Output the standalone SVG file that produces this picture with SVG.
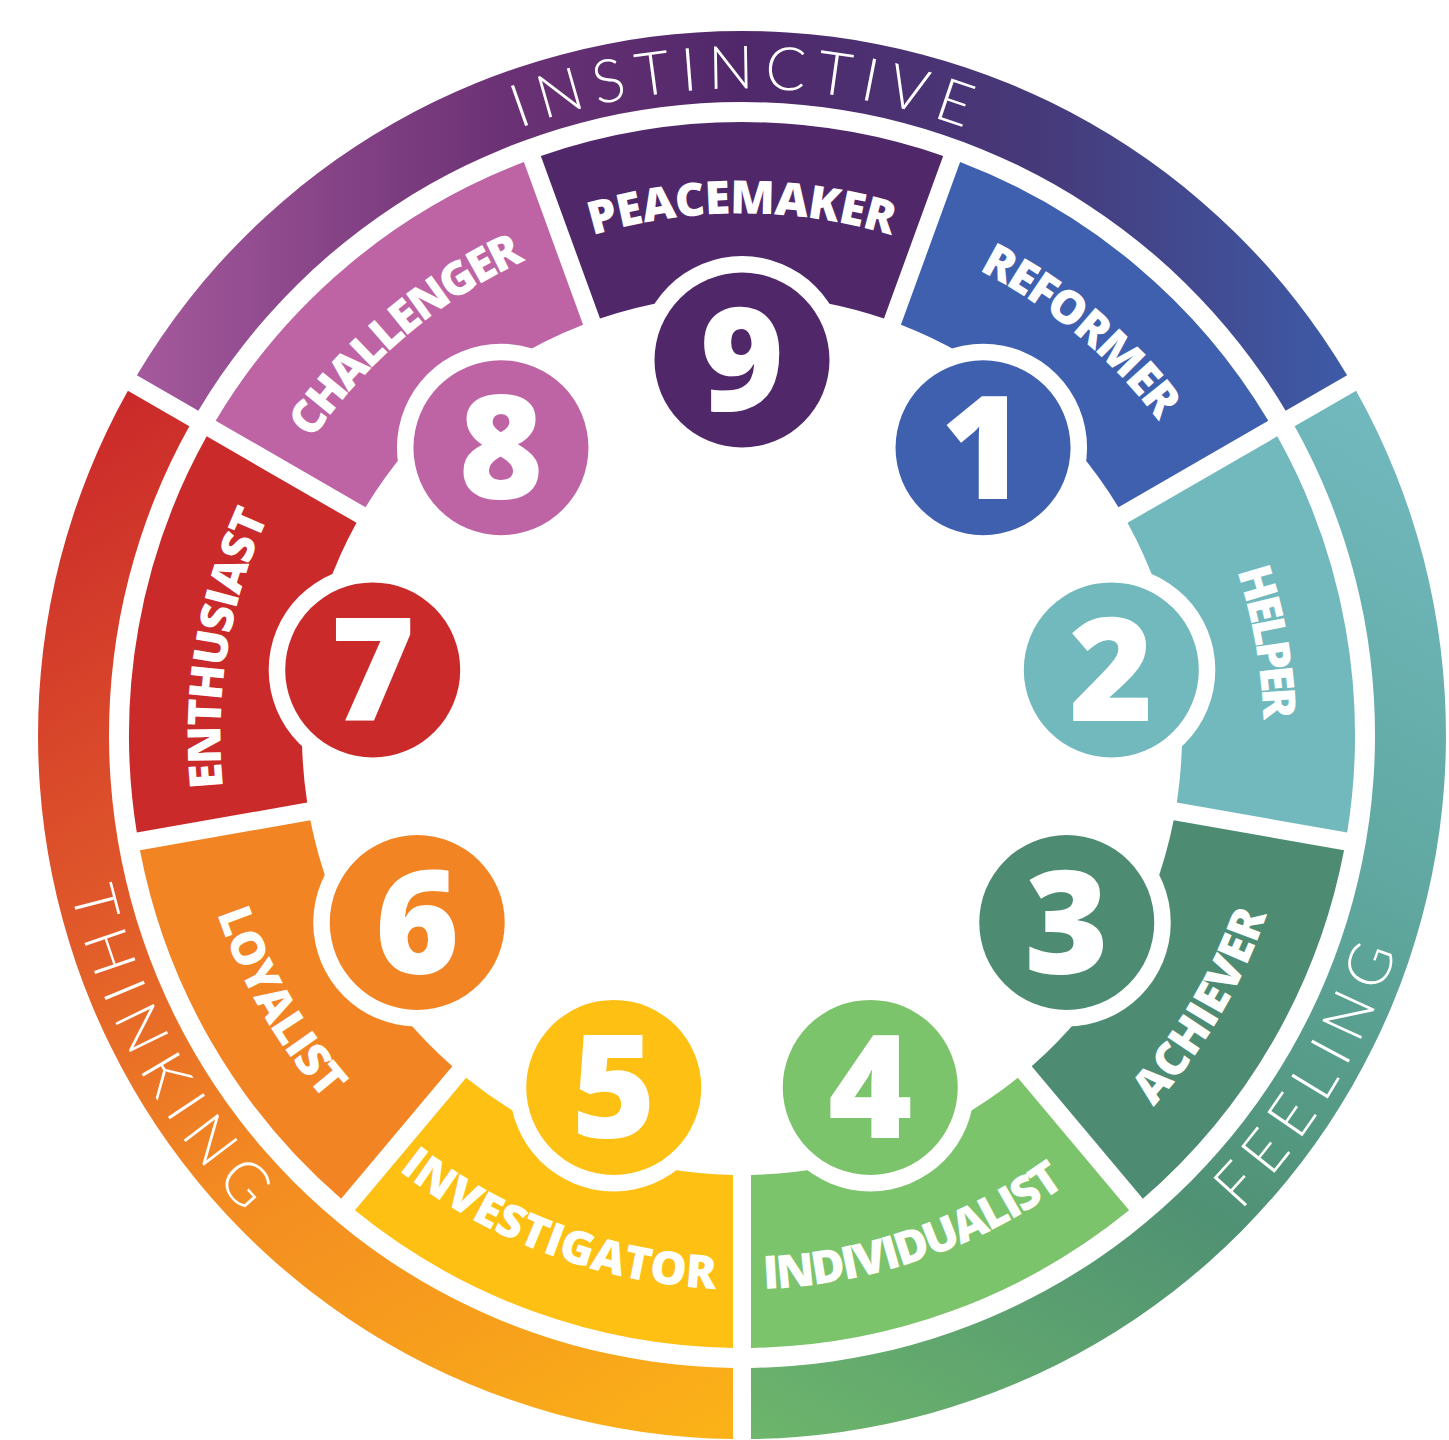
<svg xmlns="http://www.w3.org/2000/svg" width="1449" height="1440" viewBox="0 0 1449 1440">
<defs>
<style>
.seg-label{font-family:"Open Sans","Liberation Sans",sans-serif;font-weight:800;font-size:46px;fill:#fff}
.num{font-family:"Open Sans","Liberation Sans",sans-serif;font-weight:800;font-size:144px;fill:#fff;text-anchor:middle}
.ring{fill:#fff}
.band-label{font-family:Lato,"Open Sans",sans-serif;font-weight:300;font-size:60px;fill:#fff}
</style>
<path id="seg" d="M 1321.05 533.83 A 613 613 0 0 1 1321.05 936.17 L 1158.46 876.99 A 440 440 0 0 0 1158.46 593.01 Z"/>
<path id="cw" d="M 742 213.5 A 521.5 521.5 0 0 1 742 1256.5"/>
<path id="ccw" d="M 742 1289.5 A 554.5 554.5 0 0 0 742 180.5"/>
<path id="cwOut" d="M 742 88.5 A 646.5 646.5 0 0 1 742 1381.5"/>
<path id="ccwOut" d="M 742 1424.5 A 689.5 689.5 0 0 0 742 45.5"/>
<linearGradient id="gInst" gradientUnits="userSpaceOnUse" x1="130" y1="400" x2="1350" y2="400">
<stop offset="0" stop-color="#a65a9d"/><stop offset="0.3" stop-color="#6c3275"/><stop offset="0.5" stop-color="#50286a"/><stop offset="0.75" stop-color="#463a7a"/><stop offset="1" stop-color="#3e5ba8"/>
</linearGradient>
<linearGradient id="gFeel" gradientUnits="userSpaceOnUse" x1="1350" y1="390" x2="750" y2="1440">
<stop offset="0" stop-color="#72b9bf"/><stop offset="0.35" stop-color="#5fa79f"/><stop offset="0.65" stop-color="#4f9173"/><stop offset="1" stop-color="#6db66b"/>
</linearGradient>
<linearGradient id="gThink" gradientUnits="userSpaceOnUse" x1="130" y1="400" x2="740" y2="1440">
<stop offset="0" stop-color="#cb2a2a"/><stop offset="0.35" stop-color="#e0582a"/><stop offset="0.6" stop-color="#f38a22"/><stop offset="1" stop-color="#fbb317"/>
</linearGradient>
</defs>
<rect width="1449" height="1440" fill="#fff"/>
<g id="centres">
<g id="band-instinctive">
<path fill="url(#gInst)" d="M 136.86 375.23 A 704 704 0 0 1 1347.14 375.23 L 1285.64 410.74 A 633 633 0 0 0 198.36 410.74 Z"/>
<text class="band-label" transform="rotate(-90 742 735)"><textPath href="#cwOut" startOffset="50%" text-anchor="middle" textLength="455" lengthAdjust="spacing">INSTINCTIVE</textPath></text>
</g>
<g id="band-feeling">
<path fill="url(#gFeel)" d="M 1356.11 390.82 A 704 704 0 0 1 751 1438.94 L 751 1367.94 A 633 633 0 0 0 1294.64 426.32 Z"/>
<text class="band-label" transform="rotate(31 742 735)"><textPath href="#ccwOut" startOffset="50%" text-anchor="middle" textLength="305" lengthAdjust="spacing">FEELING</textPath></text>
</g>
<g id="band-thinking">
<path fill="url(#gThink)" d="M 733 1438.94 A 704 704 0 0 1 127.89 390.82 L 189.36 426.32 A 633 633 0 0 0 733 1367.94 Z"/>
<text class="band-label" transform="rotate(151.5 742 735)"><textPath href="#ccwOut" startOffset="50%" text-anchor="middle" textLength="370" lengthAdjust="spacing">THINKING</textPath></text>
</g>
</g>
<g id="node-9">
<use href="#seg" fill="#50286a" transform="rotate(-90 742 735)"/>
<text class="seg-label" transform="rotate(-90 742 735)"><textPath href="#cw" startOffset="50%" text-anchor="middle" textLength="303" lengthAdjust="spacing">PEACEMAKER</textPath></text>
<circle class="ring" cx="742" cy="360" r="104"/>
<circle cx="742" cy="360" r="87.5" fill="#50286a"/>
<text class="num" x="742" y="411">9</text>
</g>
<g id="node-1">
<use href="#seg" fill="#3e60ae" transform="rotate(-50 742 735)"/>
<text class="seg-label" transform="rotate(-50 742 735)"><textPath href="#cw" startOffset="50%" text-anchor="middle" textLength="237" lengthAdjust="spacing">REFORMER</textPath></text>
<circle class="ring" cx="983.05" cy="447.73" r="104"/>
<circle cx="983.05" cy="447.73" r="87.5" fill="#3e60ae"/>
<text class="num" x="983.05" y="498.73">1</text>
</g>
<g id="node-2">
<use href="#seg" fill="#72b9be" transform="rotate(-10 742 735)"/>
<text class="seg-label" transform="rotate(-10 742 735)"><textPath href="#cw" startOffset="50%" text-anchor="middle" textLength="152" lengthAdjust="spacing">HELPER</textPath></text>
<circle class="ring" cx="1111.3" cy="669.88" r="104"/>
<circle cx="1111.3" cy="669.88" r="87.5" fill="#72b9be"/>
<text class="num" x="1111.3" y="720.88">2</text>
</g>
<g id="node-3">
<use href="#seg" fill="#4d8c72" transform="rotate(30 742 735)"/>
<text class="seg-label" transform="rotate(30.5 742 735)"><textPath href="#ccw" startOffset="50%" text-anchor="middle" textLength="225" lengthAdjust="spacing">ACHIEVER</textPath></text>
<circle class="ring" cx="1066.76" cy="922.5" r="104"/>
<circle cx="1066.76" cy="922.5" r="87.5" fill="#4d8c72"/>
<text class="num" x="1066.76" y="973.5">3</text>
</g>
<g id="node-4">
<use href="#seg" fill="#7cc46b" transform="rotate(70 742 735)"/>
<text class="seg-label" transform="rotate(71 742 735)"><textPath href="#ccw" startOffset="50%" text-anchor="middle" textLength="324" lengthAdjust="spacing">INDIVIDUALIST</textPath></text>
<circle class="ring" cx="870.26" cy="1087.38" r="104"/>
<circle cx="870.26" cy="1087.38" r="87.5" fill="#7cc46b"/>
<text class="num" x="870.26" y="1138.38">4</text>
</g>
<g id="node-5">
<use href="#seg" fill="#fdc013" transform="rotate(110 742 735)"/>
<text class="seg-label" transform="rotate(110.5 742 735)"><textPath href="#ccw" startOffset="50%" text-anchor="middle" textLength="344" lengthAdjust="spacing">INVESTIGATOR</textPath></text>
<circle class="ring" cx="613.74" cy="1087.38" r="104"/>
<circle cx="613.74" cy="1087.38" r="87.5" fill="#fdc013"/>
<text class="num" x="613.74" y="1138.38">5</text>
</g>
<g id="node-6">
<use href="#seg" fill="#f38424" transform="rotate(150 742 735)"/>
<text class="seg-label" transform="rotate(150 742 735)"><textPath href="#ccw" startOffset="50%" text-anchor="middle" textLength="217" lengthAdjust="spacing">LOYALIST</textPath></text>
<circle class="ring" cx="417.24" cy="922.5" r="104"/>
<circle cx="417.24" cy="922.5" r="87.5" fill="#f38424"/>
<text class="num" x="417.24" y="973.5">6</text>
</g>
<g id="node-7">
<use href="#seg" fill="#ca2a2a" transform="rotate(190 742 735)"/>
<text class="seg-label" transform="rotate(189.5 742 735)"><textPath href="#cw" startOffset="50%" text-anchor="middle" textLength="278" lengthAdjust="spacing">ENTHUSIAST</textPath></text>
<circle class="ring" cx="372.7" cy="669.88" r="104"/>
<circle cx="372.7" cy="669.88" r="87.5" fill="#ca2a2a"/>
<text class="num" x="372.7" y="720.88">7</text>
</g>
<g id="node-8">
<use href="#seg" fill="#be64a5" transform="rotate(230 742 735)"/>
<text class="seg-label" transform="rotate(230 742 735)"><textPath href="#cw" startOffset="50%" text-anchor="middle" textLength="282" lengthAdjust="spacing">CHALLENGER</textPath></text>
<circle class="ring" cx="500.95" cy="447.73" r="104"/>
<circle cx="500.95" cy="447.73" r="87.5" fill="#be64a5"/>
<text class="num" x="500.95" y="498.73">8</text>
</g>
<g id="connectors"/>
</svg>
